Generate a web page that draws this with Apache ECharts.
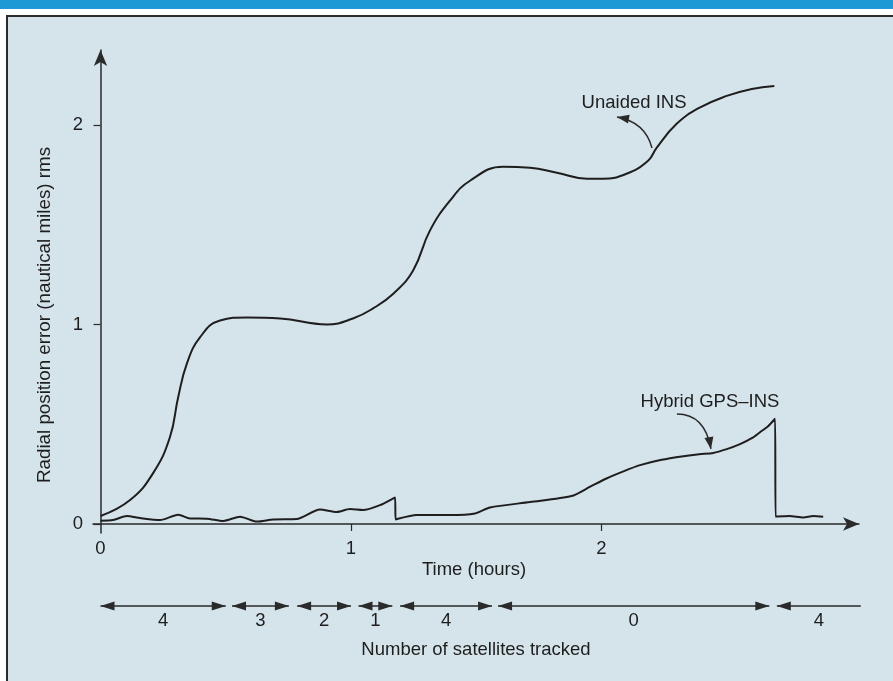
<!DOCTYPE html>
<html><head><meta charset="utf-8">
<script src="https://cdn.jsdelivr.net/npm/echarts@6/dist/echarts.min.js"></script>
<style>html,body{margin:0;padding:0;background:#fff}#c{width:893px;height:681px}</style>
</head><body><div id="c"></div>
<script>
// ---- data ----
const unaidedTime  = [0, 0.118, 0.21, 0.277, 0.31, 0.345, 0.397, 0.477, 0.585, 0.717, 0.904, 1.008, 1.088, 1.17, 1.248, 1.315, 1.395, 1.475, 1.607, 1.715, 1.822, 1.942, 2.006, 2.10, 2.186, 2.22, 2.30, 2.39, 2.50, 2.60, 2.69];
const unaidedError = [0.04, 0.12, 0.255, 0.435, 0.635, 0.805, 0.935, 1.02, 1.035, 1.03, 1.0, 1.03, 1.08, 1.155, 1.27, 1.47, 1.62, 1.72, 1.79, 1.785, 1.76, 1.73, 1.73, 1.755, 1.82, 1.885, 2.005, 2.085, 2.145, 2.18, 2.195];
const hybridTime  = [0, 0.05, 0.105, 0.158, 0.238, 0.31, 0.357, 0.424, 0.49, 0.557, 0.624, 0.69, 0.783, 0.876, 0.943, 0.996, 1.048, 1.116, 1.176, 1.178, 1.262, 1.395, 1.495, 1.555, 1.715, 1.88, 1.955, 2.02, 2.09, 2.154, 2.24, 2.327, 2.39, 2.446, 2.50, 2.553, 2.60, 2.633, 2.665, 2.693, 2.695, 2.75, 2.806, 2.845, 2.885];
const hybridError = [0.017, 0.02, 0.04, 0.03, 0.02, 0.047, 0.028, 0.027, 0.015, 0.037, 0.012, 0.023, 0.025, 0.073, 0.06, 0.075, 0.07, 0.095, 0.133, 0.023, 0.045, 0.045, 0.053, 0.083, 0.11, 0.14, 0.187, 0.228, 0.265, 0.295, 0.322, 0.34, 0.35, 0.356, 0.375, 0.40, 0.43, 0.46, 0.49, 0.528, 0.037, 0.04, 0.033, 0.04, 0.037];
const xTickValues = [0, 1, 2];
const yTickValues = [0, 1, 2];
const satStart = [0, 0.525, 0.785, 1.03, 1.196, 1.587, 2.70];
const satEnd   = [0.5, 0.752, 1.0, 1.165, 1.563, 2.67, 3.035];
const satCount = ['4', '3', '2', '1', '4', '0', '4'];
const satRightArrow = [true, true, true, true, true, true, false];
const seriesNames = ['Unaided INS', 'Hybrid GPS–INS'];

// ---- rendering ----
const FONT = '"Liberation Sans", Arial, Helvetica, sans-serif';
const FS = 18.5;
const INK = '#1e1e1e';
const chart = echarts.init(document.getElementById('c'), null, {renderer: 'canvas'});

function arrowHead(tip, from, L, W) {
  const dx = tip[0] - from[0], dy = tip[1] - from[1];
  const d = Math.hypot(dx, dy) || 1;
  const ux = dx / d, uy = dy / d, px = -uy, py = ux;
  const bx = tip[0] - ux * L, by = tip[1] - uy * L;
  return [[tip[0], tip[1]], [bx + px * W, by + py * W], [bx - px * W, by - py * W]];
}

const annotations = [
  {text: seriesNames[0], at: [2.13, 2.109], start: [2.2016, 1.884], ctrl: [2.174, 2.014], end: [2.062, 2.039]},
  {text: seriesNames[1], at: [2.433, 0.611], start: [2.301, 0.551], ctrl: [2.413, 0.551], end: [2.437, 0.376]}
];

const option = {
  animation: false,
  backgroundColor: '#ffffff',
  textStyle: {fontFamily: FONT},
  graphic: [
    {type: 'rect', z: -10, shape: {x: 0, y: 0, width: 893, height: 9}, style: {fill: '#1b9ad6'}},
    {type: 'rect', z: -10, shape: {x: 7, y: 16, width: 900, height: 700}, style: {fill: '#d5e3ea', stroke: '#2b2b2b', lineWidth: 2}},
    {type: 'text', z: 5, x: 45, y: 315, rotation: Math.PI / 2,
     style: {text: 'Radial position error (nautical miles) rms', fontSize: 18.8, fontFamily: FONT, fill: INK, align: 'center', verticalAlign: 'middle'}},
    {type: 'text', z: 5, x: 474, y: 570,
     style: {text: 'Time (hours)', fontSize: FS, fontFamily: FONT, fill: INK, align: 'center', verticalAlign: 'middle'}},
    {type: 'text', z: 5, x: 476, y: 650,
     style: {text: 'Number of satellites tracked', fontSize: FS, fontFamily: FONT, fill: INK, align: 'center', verticalAlign: 'middle'}}
  ],
  grid: [
    {left: 93, right: 34, top: 50, bottom: 148},
    {left: 93, right: 34, top: 596, height: 20}
  ],
  xAxis: [
    {type: 'value', gridIndex: 0, min: -0.03, max: 3.028,
     splitLine: {show: false},
     axisLine: {show: true, onZero: true, symbol: ['none', 'arrow'], symbolSize: [10, 16], lineStyle: {color: '#2a2a2a', width: 1.5}},
     axisTick: {show: true, length: 7, customValues: [1, 2], lineStyle: {color: '#2a2a2a', width: 1.2}},
     axisLabel: {show: true, margin: 6, customValues: xTickValues, fontSize: FS, color: INK, fontFamily: FONT}},
    {type: 'value', gridIndex: 1, min: -0.03, max: 3.028, show: false}
  ],
  yAxis: [
    {type: 'value', gridIndex: 0, min: -0.045, max: 2.375,
     splitLine: {show: false},
     axisLine: {show: true, onZero: true, symbol: ['none', 'arrow'], symbolSize: [10, 16], lineStyle: {color: '#2a2a2a', width: 1.5}},
     axisTick: {show: true, length: 7, customValues: yTickValues, lineStyle: {color: '#2a2a2a', width: 1.2}},
     axisLabel: {show: true, margin: 10, customValues: yTickValues, fontSize: FS, color: INK, fontFamily: FONT}},
    {type: 'value', gridIndex: 1, min: 0, max: 1, show: false}
  ],
  series: [
    {name: seriesNames[0], type: 'line', xAxisIndex: 0, yAxisIndex: 0, showSymbol: false, smooth: 0.45,
     lineStyle: {color: INK, width: 2}, data: unaidedTime.map((t, i) => [t, unaidedError[i]])},
    {name: seriesNames[1], type: 'line', xAxisIndex: 0, yAxisIndex: 0, showSymbol: false, smooth: 0.25,
     lineStyle: {color: INK, width: 2, join: 'round'}, data: hybridTime.map((t, i) => [t, hybridError[i]])},
    {type: 'custom', xAxisIndex: 0, yAxisIndex: 0, silent: true, clip: false,
     data: annotations.map((a, i) => [a.at[0], a.at[1], i]),
     renderItem(params, api) {
       const a = annotations[params.dataIndex];
       const s = api.coord(a.start), c = api.coord(a.ctrl), e = api.coord(a.end), t = api.coord(a.at);
       return {type: 'group', children: [
         {type: 'text', style: {text: a.text, x: t[0], y: t[1], align: 'center', verticalAlign: 'middle', fontSize: FS, fontFamily: FONT, fill: INK}},
         {type: 'bezierCurve', shape: {x1: s[0], y1: s[1], cpx1: c[0], cpy1: c[1], x2: e[0], y2: e[1]}, style: {stroke: '#2a2a2a', lineWidth: 1.5, fill: null}},
         {type: 'polygon', shape: {points: arrowHead(e, c, 12, 4.5)}, style: {fill: '#2a2a2a'}}
       ]};
     }},
    {type: 'custom', xAxisIndex: 1, yAxisIndex: 1, silent: true, clip: false,
     data: satStart.map((s, i) => [s, satEnd[i], i]),
     renderItem(params, api) {
       const i = params.dataIndex;
       const a = api.coord([api.value(0), 0.5]);
       const b = api.coord([api.value(1), 0.5]);
       const y = a[1], L = 14, W = 4.5;
       const ch = [
         {type: 'line', shape: {x1: a[0], y1: y, x2: b[0], y2: y}, style: {stroke: '#2a2a2a', lineWidth: 1.5}},
         {type: 'polygon', shape: {points: [[a[0], y], [a[0] + L, y - W], [a[0] + L, y + W]]}, style: {fill: '#2a2a2a'}}
       ];
       if (satRightArrow[i]) ch.push({type: 'polygon', shape: {points: [[b[0], y], [b[0] - L, y - W], [b[0] - L, y + W]]}, style: {fill: '#2a2a2a'}});
       ch.push({type: 'text', style: {text: satCount[i], x: (a[0] + b[0]) / 2, y: y + 15, align: 'center', verticalAlign: 'middle', fontSize: FS, fontFamily: FONT, fill: INK}});
       return {type: 'group', children: ch};
     }}
  ]
};
chart.setOption(option);
</script>
</body></html>
